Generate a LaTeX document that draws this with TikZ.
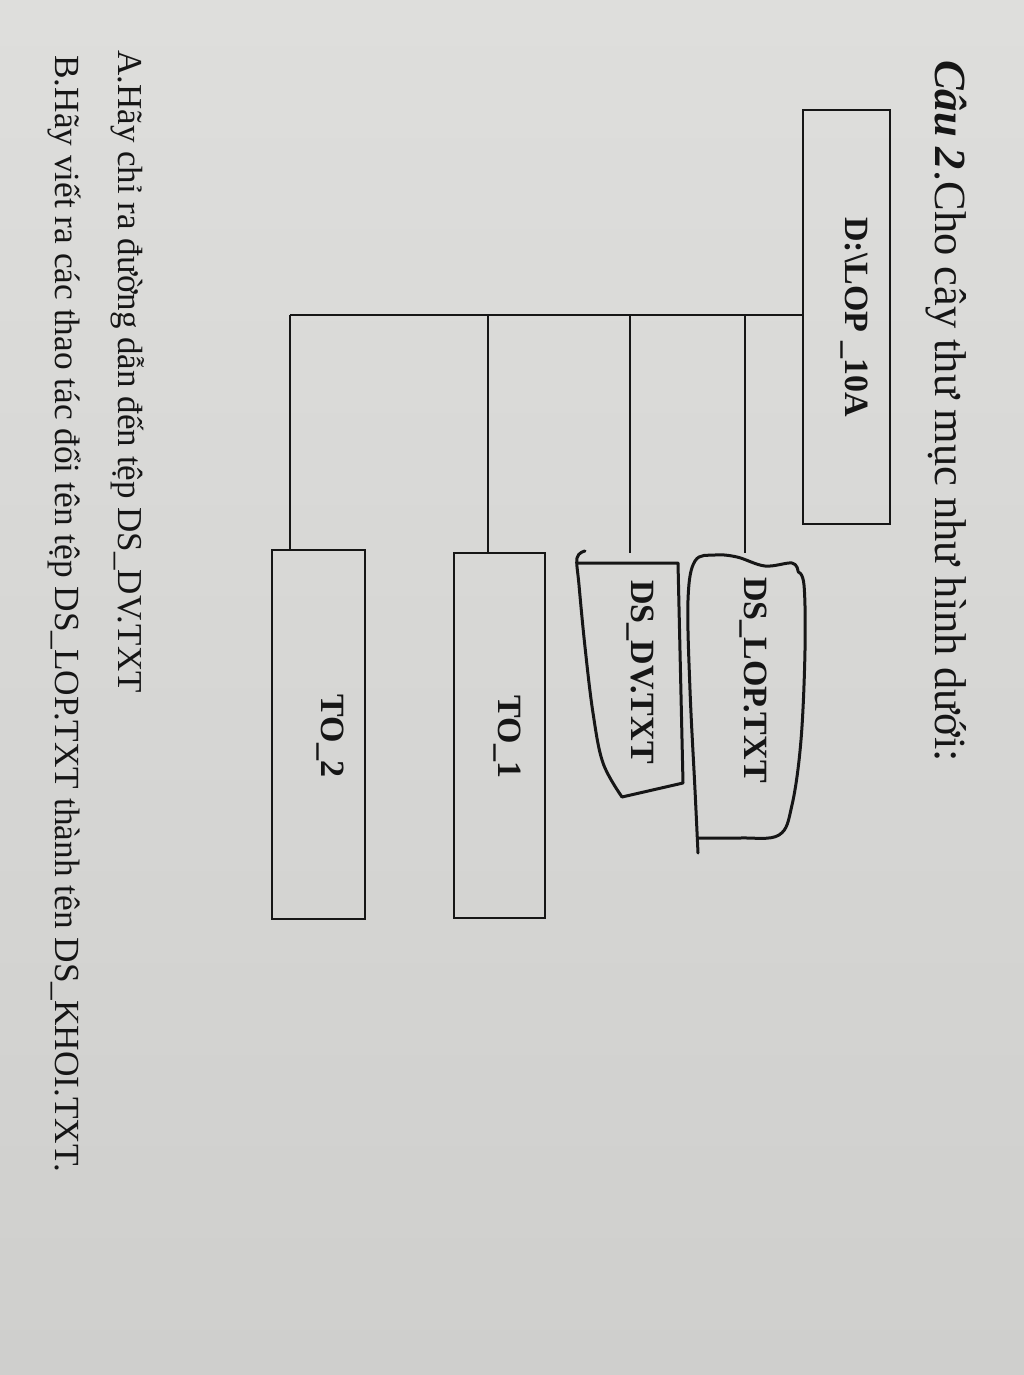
\documentclass[tikz,border=0pt]{standalone}
\usepackage{fontspec}
\setmainfont{Liberation Serif}
\usetikzlibrary{calc}
\definecolor{ink}{HTML}{161616}
\definecolor{paperA}{HTML}{DEDEDC}
\definecolor{paperB}{HTML}{CFCFCD}
\begin{document}
\begin{tikzpicture}[x=1pt,y=-1pt,
  boxst/.style={draw=ink,line width=2.8pt,rectangle,inner sep=0pt},
  ghost/.style={rectangle,inner sep=0pt},
  conn/.style={draw=ink,line width=2.8pt},
  hand/.style={draw=ink,line width=3pt,line cap=round,line join=round},
  lbl/.style={rotate=-90,text=ink,inner sep=0pt,font=\fontsize{34}{40}\selectfont\bfseries},
  txt/.style={rotate=-90,text=ink,inner sep=0pt,anchor=base west}]
% paper
\shade[top color=paperA,bottom color=paperB,shading angle=0] (0,0) rectangle (1024,1375);
\useasboundingbox (0,0) rectangle (1024,1375);

% heading and questions
\node[txt,font=\fontsize{44.5}{50}\selectfont] (head) at (935,60)
  {\textbf{\textit{Câu 2}}.Cho cây thư mục như hình dưới:};
\node[txt,font=\fontsize{35}{40}\selectfont] (qa) at (118,50)
  {A.Hãy chỉ ra đường dẫn đến tệp DS\_DV.TXT};
\node[txt,font=\fontsize{35.3}{40}\selectfont] (qb) at (55,55)
  {B.Hãy viết ra các thao tác đổi tên tệp DS\_LOP.TXT thành tên DS\_KHOI.TXT.};

% boxes
\node[boxst,minimum width=87pt,minimum height=414pt] (root) at (846.5,317) {};
\node[boxst,minimum width=91pt,minimum height=365pt] (to1) at (499.5,735.5) {};
\node[boxst,minimum width=93pt,minimum height=369pt] (to2) at (318.5,734.5) {};
\node[ghost,minimum width=117pt,minimum height=297pt] (lopbox) at (746.5,701.5) {};
\node[ghost,minimum width=106pt,minimum height=244pt] (dvbox) at (630,675) {};

% labels
\node[lbl] (lroot) at (854,317) {D:\textbackslash LOP \_10A};
\node[lbl] (llop) at (753,680) {DS\_LOP.TXT};
\node[lbl] (ldv) at (640,672) {DS\_DV.TXT};
\node[lbl] (lto1) at (507,737) {TO\_1};
\node[lbl] (lto2) at (330,736) {TO\_2};

% hand-drawn outline around DS_LOP.TXT
\draw[hand] plot[smooth,tension=0.6] coordinates {(798,571) (792,563) (765,566) (737,557) (715,555) (695,561) (688,600) (690,690) (695,790) (698,853)};
\draw[hand] plot[smooth,tension=0.6] coordinates {(698,838) (740,838) (779,835) (792,805) (801,740) (805,650) (804,585) (798,572)};

% DS_DV.TXT outline: printed top/right/bottom, hand-drawn left
\draw[hand] (578,563) -- (678,563) -- (683,783) -- (622,797);
\draw[hand] plot[smooth,tension=0.6] coordinates {(622,797) (603,763) (593,713) (585,647) (579,585) (577,558) (585,551)};

% connectors
\coordinate (b1) at (745,315);
\coordinate (b2) at (630,315);
\coordinate (b3) at (488,315);
\coordinate (b4) at (290,315);
\draw[conn] (root.west |- b1) -- (b4);
\draw[conn] (b1) -- (b1 |- lopbox.north);
\draw[conn] (b2) -- (b2 |- dvbox.north);
\draw[conn] (b3) -- (b3 |- to1.north);
\draw[conn] (b4) -- (b4 |- to2.north);
\end{tikzpicture}
\end{document}
